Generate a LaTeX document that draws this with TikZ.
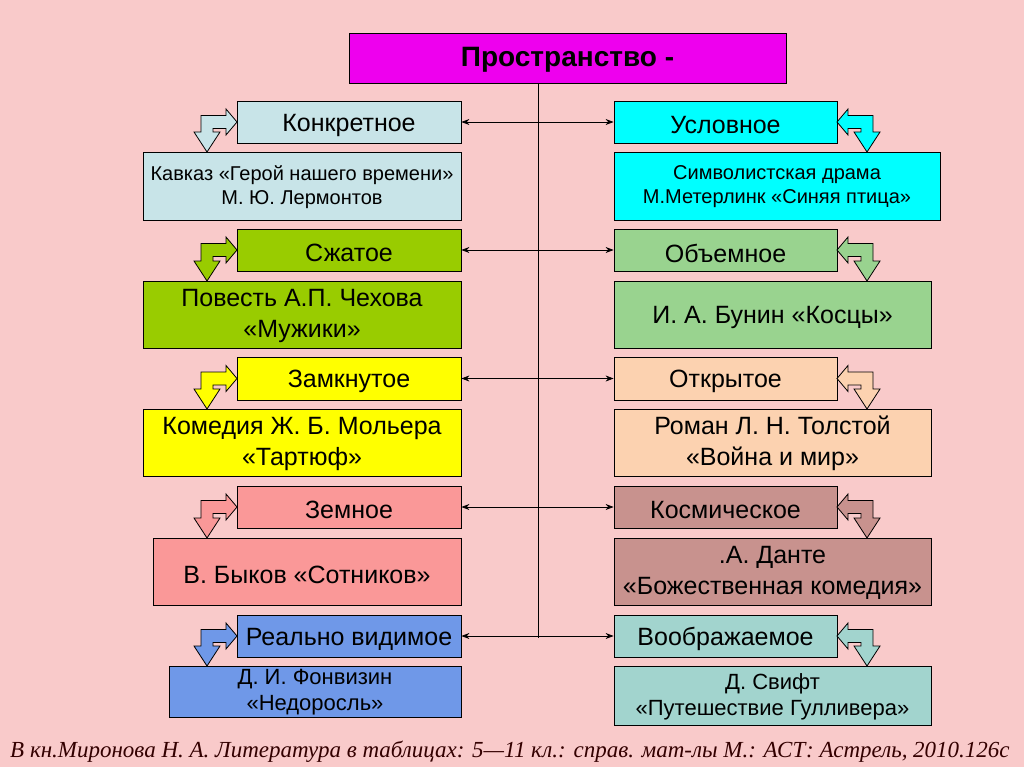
\documentclass[tikz,border=0pt]{standalone}
\usepackage{fontspec}
\setmainfont{Liberation Sans}
\newfontfamily\capfont{Liberation Serif}
\usetikzlibrary{arrows.meta}
\definecolor{bg}{HTML}{F9CACA}
\definecolor{mag}{HTML}{EE00EE}
\definecolor{la}{HTML}{C8E4E8}\definecolor{ra}{HTML}{00FFFF}
\definecolor{lb}{HTML}{99CC00}\definecolor{rb}{HTML}{99D38F}
\definecolor{lc}{HTML}{FFFF00}\definecolor{rc}{HTML}{FCD2B0}
\definecolor{ld}{HTML}{FA9898}\definecolor{rd}{HTML}{C8928E}
\definecolor{le}{HTML}{6F98E8}\definecolor{re}{HTML}{A2D4CE}
\newcommand\lbend[4]{\fill[#4,draw=black,line width=0.8pt] (#1,#2) -- ++(-11,-13) -- ++(0,6.5) -- (#1-36,#2-6.5) -- (#1-36,#3-20) -- (#1-43,#3-20) -- (#1-30,#3) -- (#1-17,#3-20) -- (#1-24,#3-20) -- (#1-24,#2+6.5) -- (#1-11,#2+6.5) -- (#1-11,#2+13) -- cycle;}
\newcommand\rbend[4]{\fill[#4,draw=black,line width=0.8pt] (#1,#2) -- ++(11,-13) -- ++(0,6.5) -- (#1+36,#2-6.5) -- (#1+36,#3-20) -- (#1+43,#3-20) -- (#1+30,#3) -- (#1+17,#3-20) -- (#1+24,#3-20) -- (#1+24,#2+6.5) -- (#1+11,#2+6.5) -- (#1+11,#2+13) -- cycle;}
\tikzset{bx/.style={draw=black,line width=0.8pt,inner sep=0pt,align=center},
 conn/.style={line width=0.8pt,{Stealth[length=8pt,width=6pt]}-{Stealth[length=8pt,width=6pt]}},
 big/.style={align=center,font=\fontsize{25}{31}\selectfont}}
\newcommand\hb[6]{\node[bx,fill=#6,minimum width=#3-#2,minimum height=#5-#4] (#1) at ({(#2+#3)/2},{(#4+#5)/2}) {};}
\begin{document}
\begin{tikzpicture}[x=1pt,y=-1pt]
\fill[bg] (0,0) rectangle (1024,767);
\useasboundingbox (0,0) rectangle (1024,767);
\node[bx,fill=mag,minimum width=437,minimum height=50] (t) at (567.5,58) {};
\node[font=\bfseries\fontsize{28}{30}\selectfont] at (567.5,60) {Пространство -};
\draw[line width=0.8pt] (t.south -| 538,0) -- (538,638);
\hb{h1l}{237}{461}{101}{143}{la}\hb{h1r}{614}{837}{101}{143}{ra}
\hb{h2l}{237}{461}{229}{271}{lb}\hb{h2r}{614}{837}{229}{271}{rb}
\hb{h3l}{237}{461}{357}{400}{lc}\hb{h3r}{614}{837}{357}{400}{rc}
\hb{h4l}{237}{461}{486}{528}{ld}\hb{h4r}{614}{837}{486}{528}{rd}
\hb{h5l}{237}{461}{615}{657}{le}\hb{h5r}{614}{837}{615}{657}{re}
\hb{c1l}{143}{461}{152}{220}{la}\hb{c1r}{614}{940}{152}{220}{ra}
\hb{c2l}{143}{461}{281}{348}{lb}\hb{c2r}{614}{931}{281}{348}{rb}
\hb{c3l}{143}{461}{409}{476}{lc}\hb{c3r}{614}{931}{409}{476}{rc}
\hb{c4l}{153}{461}{538}{605}{ld}\hb{c4r}{614}{931}{538}{605}{rd}
\hb{c5l}{169}{461}{666}{717}{le}\hb{c5r}{614}{931}{666}{725}{re}
\foreach \n/\s in {h1l/Конкретное,h1r/Условное,h2l/Сжатое,h2r/Объемное,h3l/Замкнутое,h3r/Открытое,h4l/Земное,h4r/Космическое,h5l/Реально видимое,h5r/Воображаемое}
  \node[font=\fontsize{25}{28}\selectfont] at ([yshift=-3]\n) {\s};
\node[align=center,font=\fontsize{20}{24}\selectfont] at ([yshift=-1]c1l) {Кавказ «Герой нашего времени»\\М. Ю. Лермонтов};
\node[align=center,font=\fontsize{20}{24}\selectfont] at ([yshift=-1]c1r) {Символистская драма\\М.Метерлинк «Синяя птица»};
\node[big] at ([yshift=-1]c2l) {Повесть А.П. Чехова\\«Мужики»};
\node[big] at ([yshift=-3]c2r) {И. А. Бунин «Косцы»};
\node[big] at ([yshift=-1]c3l) {Комедия Ж. Б. Мольера\\«Тартюф»};
\node[big] at ([yshift=-1]c3r) {Роман Л. Н. Толстой\\«Война и мир»};
\node[big] at ([yshift=-3]c4l) {В. Быков «Сотников»};
\node[big] at ([yshift=-1]c4r) {.А. Данте\\«Божественная комедия»};
\node[align=center,font=\fontsize{22}{26}\selectfont] at ([yshift=-1]c5l) {Д. И. Фонвизин\\«Недоросль»};
\node[align=center,font=\fontsize{22}{26}\selectfont] at ([yshift=-1]c5r) {Д. Свифт\\«Путешествие Гулливера»};
\foreach \i in {1,...,5} \draw[conn] (h\i l.east) -- (h\i r.west);
\lbend{237}{122}{152}{la}\rbend{837}{122}{152}{ra}
\lbend{237}{250}{281}{lb}\rbend{837}{250}{281}{rb}
\lbend{237}{378.5}{409}{lc}\rbend{837}{378.5}{409}{rc}
\lbend{237}{507}{538}{ld}\rbend{837}{507}{538}{rd}
\lbend{237}{636}{666}{le}\rbend{837}{636}{666}{re}
\node[anchor=base west,text=black!80!red,font=\capfont\itshape\fontsize{23}{26}\selectfont,inner sep=0pt] (src) at (10,757) {В кн.Миронова Н. А. Литература в таблицах: 5—11 кл.: справ. мат-лы М.: АСТ: Астрель, 2010.126с};
\end{tikzpicture}
\end{document}
